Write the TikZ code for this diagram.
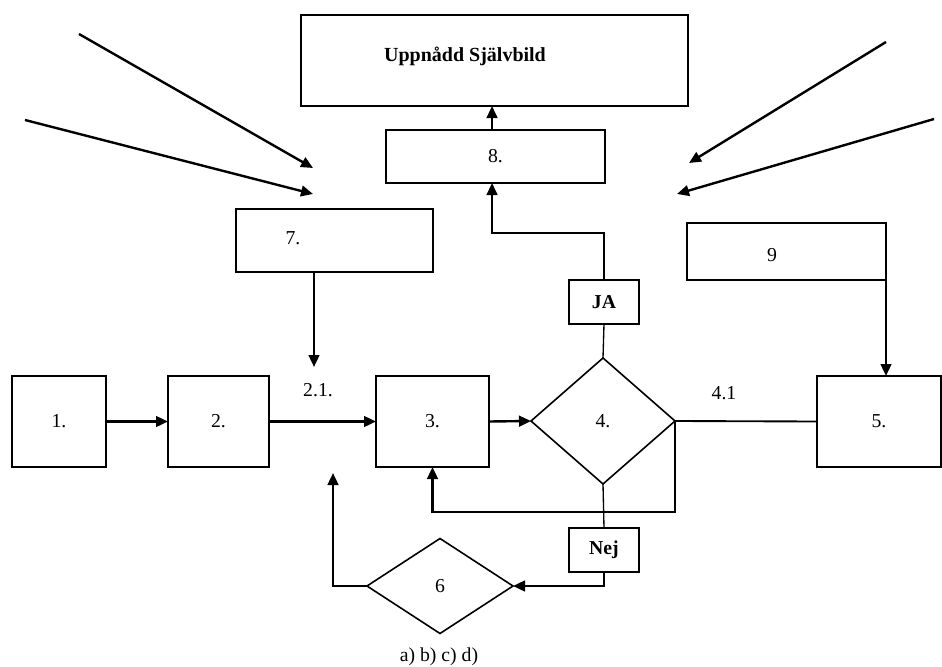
\documentclass[tikz,border=0pt]{standalone}
\usepackage{fontspec}
\setmainfont{Liberation Serif}
\usetikzlibrary{shapes.geometric,arrows.meta}

\tikzset{
  lbl/.style={font=\fontsize{14.8}{17}\selectfont, inner sep=0pt},
  box/.style={draw, line width=1.5pt, rectangle, inner sep=0pt, outer sep=0pt,
              font=\fontsize{14.8}{17}\selectfont},
  tagbox/.style={box, line width=1.3pt, font=\bfseries\fontsize{14.8}{17}\selectfont,
                 minimum width=52.5pt, minimum height=33pt},
  decision/.style={draw, line width=1.2pt, diamond, inner sep=0pt, outer sep=0pt,
                   font=\fontsize{14.8}{17}\selectfont},
  flow/.style={line width=1.8pt, -{Triangle[length=9pt,width=8pt]}},
  plain/.style={line width=1pt},
}

\begin{document}
\begin{tikzpicture}[x=0.75pt,y=-0.75pt]
\useasboundingbox (0,0) rectangle (942,667);

% top goal and boxes
\node[box, minimum width=290.25pt, minimum height=68.25pt] (goal) at (494.5,60.5) {};
\node[lbl, font=\bfseries\fontsize{15}{17}\selectfont] at (465,56) {Uppnådd Självbild};
\node[box, minimum width=164.25pt, minimum height=39.75pt] (b8) at (495.5,156.5) {8.};
\node[box, minimum width=147.75pt, minimum height=47.25pt] (b7) at (334.5,240.5) {};
\node[lbl] at (293,238) {7.};
\node[box, minimum width=149.25pt, minimum height=42.75pt] (b9) at (786.5,251.5) {};
\node[lbl] at (772,255) {9};
\node[tagbox] (ja) at (604,302) {JA};

% main row
\node[box, minimum width=70.5pt, minimum height=68.25pt] (b1) at (59,421.5) {1.};
\node[box, minimum width=75.75pt, minimum height=68.25pt] (b2) at (218.5,421.5) {2.};
\node[box, minimum width=84.75pt, minimum height=68.25pt] (b3) at (432.5,421.5) {3.};
\node[decision, minimum width=108pt, minimum height=94.5pt] (d4) at (603,421) {4.};
\node[box, minimum width=93pt, minimum height=68.25pt] (b5) at (879,421.5) {5.};

% lower part
\node[tagbox] (nej) at (604,550) {Nej};
\node[decision, minimum width=109.5pt, minimum height=71.25pt] (d6) at (440,586) {6};

% free labels
\node[lbl] at (318,390) {2.1.};
\node[lbl] at (724,393) {4.1};
\node[lbl] at (439,657) {a) b) c) d)};

% named points
\coordinate (jaTurn) at (604,233);
\coordinate (in21) at (314,367);
\coordinate (back6) at (333,473);
\coordinate (lA) at (79,34);   \coordinate (lAt) at (313,168);
\coordinate (lB) at (25,120);  \coordinate (lBt) at (313,194);
\coordinate (rC) at (886,42);  \coordinate (rCt) at (689,163);
\coordinate (rD) at (934,119); \coordinate (rDt) at (677,194);

% connectors
\draw[flow] ([xshift=-2.6pt]b8.north) -- ([xshift=-2.6pt]b8.north |- goal.south);
\draw[flow] (ja.north) -- (jaTurn) -| ([xshift=-2.6pt]b8.south);
\draw[plain] (ja.south) -- (d4.north);
\draw[flow] (b1.east) -- (b2.west);
\draw[flow] (b2.east) -- (b3.west);
\draw[flow] (b3.east) -- (d4.west);
\draw[line width=1.4pt] (d4.east) -- (b5.west);
\draw[flow] (in21 |- b7.south) -- (in21);
\draw[flow] (b9.east) -- (b9.east |- b5.north);
\draw[flow] (d4.east) -- ++(0,91) -| (b3.south);
\draw[plain] (d4.south) -- (nej.north);
\draw[flow] (nej.south) |- (d6.east);
\draw[flow] (d6.west) -| (back6);

% incoming influences
\draw[flow] (lA) -- (lAt);
\draw[flow] (lB) -- (lBt);
\draw[flow] (rC) -- (rCt);
\draw[flow] (rD) -- (rDt);
\end{tikzpicture}
\end{document}
